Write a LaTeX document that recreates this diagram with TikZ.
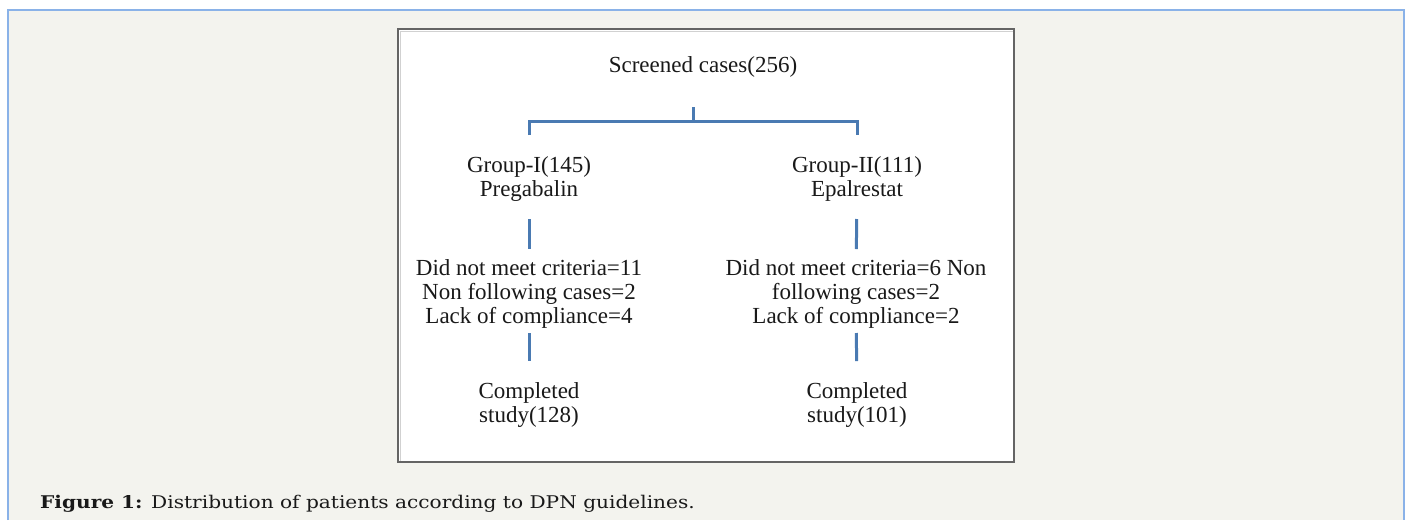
\documentclass[tikz,border=0pt]{standalone}
\usepackage{fontspec}
\setmainfont{Liberation Serif}
\newfontfamily\capfont[FakeStretch=1.15]{DejaVu Serif}
\usetikzlibrary{positioning, calc}
\definecolor{PanelGrey}{RGB}{243,243,238}
\definecolor{FrameBlue}{RGB}{138,178,232}
\definecolor{LinkBlue}{RGB}{74,122,178}
\definecolor{BoxGrey}{RGB}{100,100,100}
\definecolor{InkBlack}{RGB}{25,25,25}

\begin{document}
\begin{tikzpicture}[
    x=1pt, y=-1pt,
    label/.style={font=\fontsize{23}{24}\selectfont, text=InkBlack,
        align=center, inner sep=0pt},
    link/.style={draw=LinkBlue, line width=3pt},
    caption/.style={font=\capfont\fontsize{17.5}{20}\selectfont,
        text=InkBlack, inner sep=0pt, anchor=base west},
]
\useasboundingbox (0,0) rectangle (1408,520);

% page panel
\fill[white] (0,0) rectangle (1408,520);
\fill[PanelGrey] (8,10) rectangle (1404,520);
\draw[FrameBlue, line width=1.5pt] (8,520) -- (8,10) -- (1404,10) -- (1404,520);

% figure frame
\draw[BoxGrey, fill=white, line width=1.6pt] (398,29) rectangle (1014,462);
\draw[black!18, line width=1pt] (400.5,461) -- (400.5,31.5) -- (1013,31.5);

% flow chart
\node[label] (scr) at (703,67) {Screened cases(256)};
\node[label] (g1) at (529,179) {Group-I(145)\\Pregabalin};
\node[label] (g2) at (857,179) {Group-II(111)\\Epalrestat};
\node[label] (ex1) at (529,294)
    {Did not meet criteria=11\\Non following cases=2\\Lack of compliance=4};
\node[label] (ex2) at (856,294)
    {Did not meet criteria=6 Non\\following cases=2\\Lack of compliance=2};
\node[label] (done1) at (529,405) {Completed\\study(128)};
\node[label] (done2) at (857,405) {Completed\\study(101)};

% bracket
\coordinate (fork) at (693,121);
\coordinate (legs) at (0,135);
\draw[link] (fork) -- ++(0,-14);
\draw[link] (g1 |- legs) |- (fork) -| (g2 |- legs);

\foreach \a/\b in {g1/ex1, g2/ex2}
    \draw[link, shorten <=40pt, shorten >=45pt] (\a.center) -- (\b.center);
\foreach \a/\b in {ex1/done1, ex2/done2}
    \draw[link, shorten <=39pt, shorten >=44pt] (\a.center) -- (\b.center);

% caption
\node[caption] (cap) at (40,508)
    {\textbf{Figure 1:} Distribution of patients according to DPN guidelines.};

\end{tikzpicture}
\end{document}
